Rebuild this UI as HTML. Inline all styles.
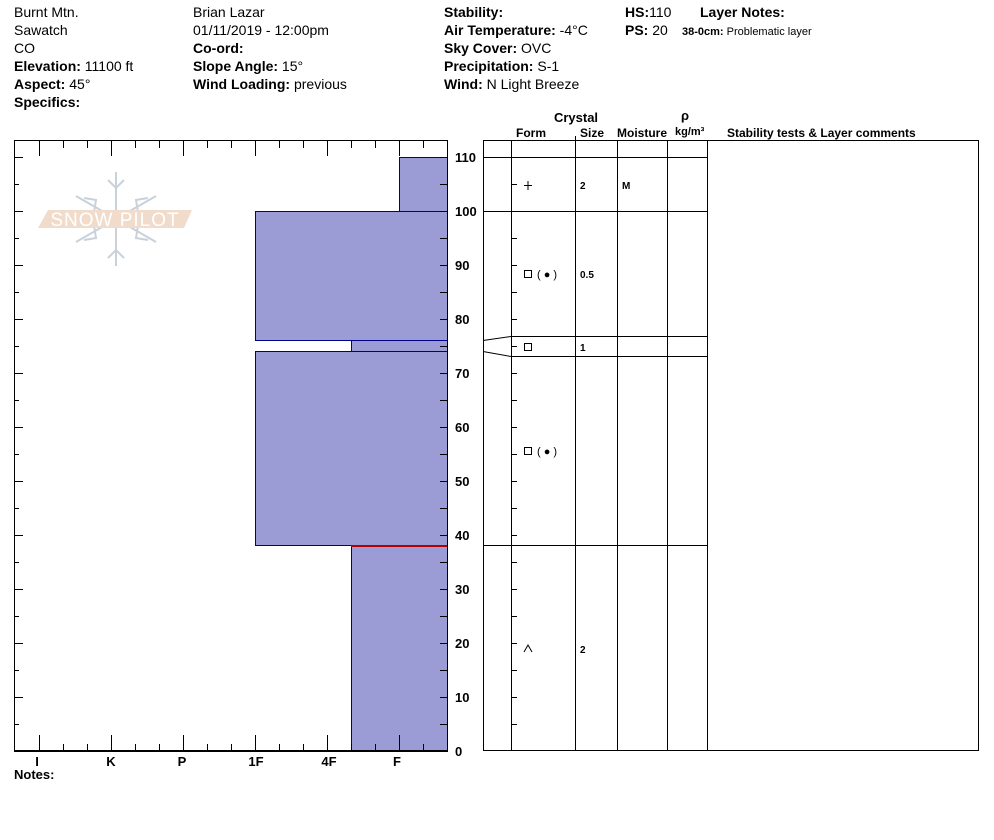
<!DOCTYPE html>
<html><head><meta charset="utf-8"><style>
body{margin:0;background:#fff;width:994px;height:840px;overflow:hidden}
svg{display:block}
text{font-family:"Liberation Sans",Arial,sans-serif;fill:#000}
.h{font-size:14px}
.b{font-weight:bold}
.s{font-size:12px;font-weight:bold}
.t{font-size:13px;font-weight:bold}
</style></head><body>
<svg width="994" height="840" viewBox="0 0 994 840" xmlns="http://www.w3.org/2000/svg">
<!-- header -->
<g class="h">
<text x="14" y="17" class="h">Burnt Mtn.</text>
<text x="14" y="35" class="h">Sawatch</text>
<text x="14" y="53" class="h">CO</text>
<text x="14" y="71" class="h"><tspan class="b">Elevation:</tspan> 11100 ft</text>
<text x="14" y="89" class="h"><tspan class="b">Aspect:</tspan> 45°</text>
<text x="14" y="107" class="h b">Specifics:</text>
<text x="193" y="17" class="h">Brian Lazar</text>
<text x="193" y="35" class="h">01/11/2019 - 12:00pm</text>
<text x="193" y="53" class="h b">Co-ord:</text>
<text x="193" y="71" class="h"><tspan class="b">Slope Angle:</tspan> 15°</text>
<text x="193" y="89" class="h"><tspan class="b">Wind Loading:</tspan> previous</text>
<text x="444" y="17" class="h b">Stability:</text>
<text x="444" y="35" class="h"><tspan class="b">Air Temperature:</tspan> -4°C</text>
<text x="444" y="53" class="h"><tspan class="b">Sky Cover:</tspan> OVC</text>
<text x="444" y="71" class="h"><tspan class="b">Precipitation:</tspan> S-1</text>
<text x="444" y="89" class="h"><tspan class="b">Wind:</tspan>  N Light Breeze</text>
<text x="625" y="17" class="h"><tspan class="b">HS:</tspan>110</text>
<text x="625" y="35" class="h"><tspan class="b">PS:</tspan> 20</text>
<text x="700" y="17" class="h b">Layer Notes:</text>
<text x="682" y="35" style="font-size:11px"><tspan font-weight="bold">38-0cm:</tspan> Problematic layer</text>
</g>
<!-- logo -->
<g stroke="#c9d1da" stroke-width="2" fill="none">
<line x1="116" y1="172" x2="116" y2="266"/>
<line x1="76" y1="196" x2="156" y2="242"/>
<line x1="76" y1="242" x2="156" y2="196"/>
<path d="M108 180l8 8 8-8M108 258l8-8 8 8M84 198l12 2-2 12M148 198l-12 2 2 12M84 240l12-2-2-12M148 240l-12-2 2-12"/>
</g>
<polygon points="48,210 192,210 184,228 38,228" fill="#f1dccb"/>
<text x="115" y="226" text-anchor="middle" style="font-size:19px;fill:#fff;letter-spacing:1px">SNOW PILOT</text>
<!-- layers -->
<g fill="#9b9bd6" stroke="#00008b" stroke-width="1">
<rect x="399.5" y="157.5" width="48" height="54"/>
<rect x="255.5" y="211.5" width="192" height="129"/>
<rect x="351.5" y="340.5" width="96" height="11"/>
<rect x="255.5" y="351.5" width="192" height="194"/>
<rect x="351.5" y="545.5" width="96" height="205"/>
</g>
<line x1="351" y1="546" x2="447" y2="546" stroke="#b00000" stroke-width="2"/>
<!-- left frame -->
<g stroke="#000" stroke-width="1" fill="none">
<rect x="14.5" y="140.5" width="433" height="610"/>
<line x1="14" y1="751" x2="448" y2="751" stroke-width="2"/>
</g>
<g stroke="#000" stroke-width="1">
<!-- top/bottom ticks -->
<path d="M39.5 141v15M111.5 141v15M183.5 141v15M255.5 141v15M327.5 141v15M399.5 141v15
M63.5 141v7M87.5 141v7M135.5 141v7M159.5 141v7M207.5 141v7M231.5 141v7M279.5 141v7M303.5 141v7M351.5 141v7M375.5 141v7M423.5 141v7
M39.5 751v-16M111.5 751v-16M183.5 751v-16M255.5 751v-16M327.5 751v-16M399.5 751v-16
M63.5 751v-7M87.5 751v-7M135.5 751v-7M159.5 751v-7M207.5 751v-7M231.5 751v-7M279.5 751v-7M303.5 751v-7M351.5 751v-7M375.5 751v-7M423.5 751v-7"/>
<!-- left axis ticks -->
<path d="M15 157.5h8M15 184.5h4M15 211.5h8M15 238.5h4M15 265.5h8M15 292.5h4M15 319.5h8M15 346.5h4M15 373.5h8M15 400.5h4M15 427.5h8M15 454.5h4M15 481.5h8M15 508.5h4M15 535.5h8M15 562.5h4M15 589.5h8M15 616.5h4M15 643.5h8M15 670.5h4M15 697.5h8M15 724.5h4"/>
<!-- right axis ticks -->
<path d="M447 157.5h-7M447 184.5h-7M447 211.5h-7M447 238.5h-7M447 265.5h-7M447 292.5h-7M447 319.5h-7M447 346.5h-7M447 373.5h-7M447 400.5h-7M447 427.5h-7M447 454.5h-7M447 481.5h-7M447 508.5h-7M447 535.5h-7M447 562.5h-7M447 589.5h-7M447 616.5h-7M447 643.5h-7M447 670.5h-7M447 697.5h-7M447 724.5h-7"/>
</g>
<g class="t">
<text x="455" y="162" class="t">110</text><text x="455" y="216" class="t">100</text>
<text x="455" y="270" class="t">90</text><text x="455" y="324" class="t">80</text>
<text x="455" y="378" class="t">70</text><text x="455" y="432" class="t">60</text>
<text x="455" y="486" class="t">50</text><text x="455" y="540" class="t">40</text>
<text x="455" y="594" class="t">30</text><text x="455" y="648" class="t">20</text>
<text x="455" y="702" class="t">10</text><text x="455" y="756" class="t">0</text>
</g>
<g class="t" text-anchor="middle">
<text x="37" y="766" class="t" text-anchor="middle">I</text>
<text x="111" y="766" class="t" text-anchor="middle">K</text>
<text x="182" y="766" class="t" text-anchor="middle">P</text>
<text x="256" y="766" class="t" text-anchor="middle">1F</text>
<text x="329" y="766" class="t" text-anchor="middle">4F</text>
<text x="397" y="766" class="t" text-anchor="middle">F</text>
</g>
<text x="14" y="779" class="t">Notes:</text>
<!-- right table -->
<text x="576" y="122" class="t" text-anchor="middle">Crystal</text>
<text x="685" y="120" class="t" text-anchor="middle">ρ</text>
<text x="516" y="137" class="s">Form</text>
<text x="580" y="137" class="s">Size</text>
<text x="617" y="137" class="s">Moisture</text>
<text x="675" y="135" class="s" style="font-size:11px">kg/m³</text>
<text x="727" y="137" class="s">Stability tests &amp; Layer comments</text>
<g stroke="#000" stroke-width="1" fill="none">
<rect x="483.5" y="140.5" width="495" height="610"/>
<path d="M511.5 140v611M575.5 140v611M617.5 140v611M667.5 140v611M707.5 140v611M575.5 136v4"/>
<path d="M483 157.5h224M483 211.5h224M511 336.5h196M511 356.5h196M483 545.5h224"/>
<path d="M483 340.5L511 336.5M483 351.5L511 356.5"/>
<path d="M511 184.5h6M511 238.5h6M511 265.5h6M511 292.5h6M511 319.5h6M511 346.5h6M511 373.5h6M511 400.5h6M511 427.5h6M511 454.5h6M511 481.5h6M511 508.5h6M511 535.5h6M511 562.5h6M511 589.5h6M511 616.5h6M511 643.5h6M511 670.5h6M511 697.5h6M511 724.5h6"/>
<path d="M524 185.5h8M528 181v9"/>
<rect x="524.5" y="270.5" width="7" height="7"/>
<rect x="524.5" y="343.5" width="7" height="7"/>
<rect x="524.5" y="447.5" width="7" height="7"/>
<path d="M524 652l4-7 4 7"/>
</g>
<text x="537" y="278" style="font-size:11px">( ● )</text>
<text x="537" y="455" style="font-size:11px">( ● )</text>
<g class="s" style="font-size:10px">
<text x="580" y="189" style="font-size:10px;font-weight:bold">2</text>
<text x="622" y="189" style="font-size:10px;font-weight:bold">M</text>
<text x="580" y="278" style="font-size:10px;font-weight:bold">0.5</text>
<text x="580" y="351" style="font-size:10px;font-weight:bold">1</text>
<text x="580" y="653" style="font-size:10px;font-weight:bold">2</text>
</g>
</svg>
</body></html>
